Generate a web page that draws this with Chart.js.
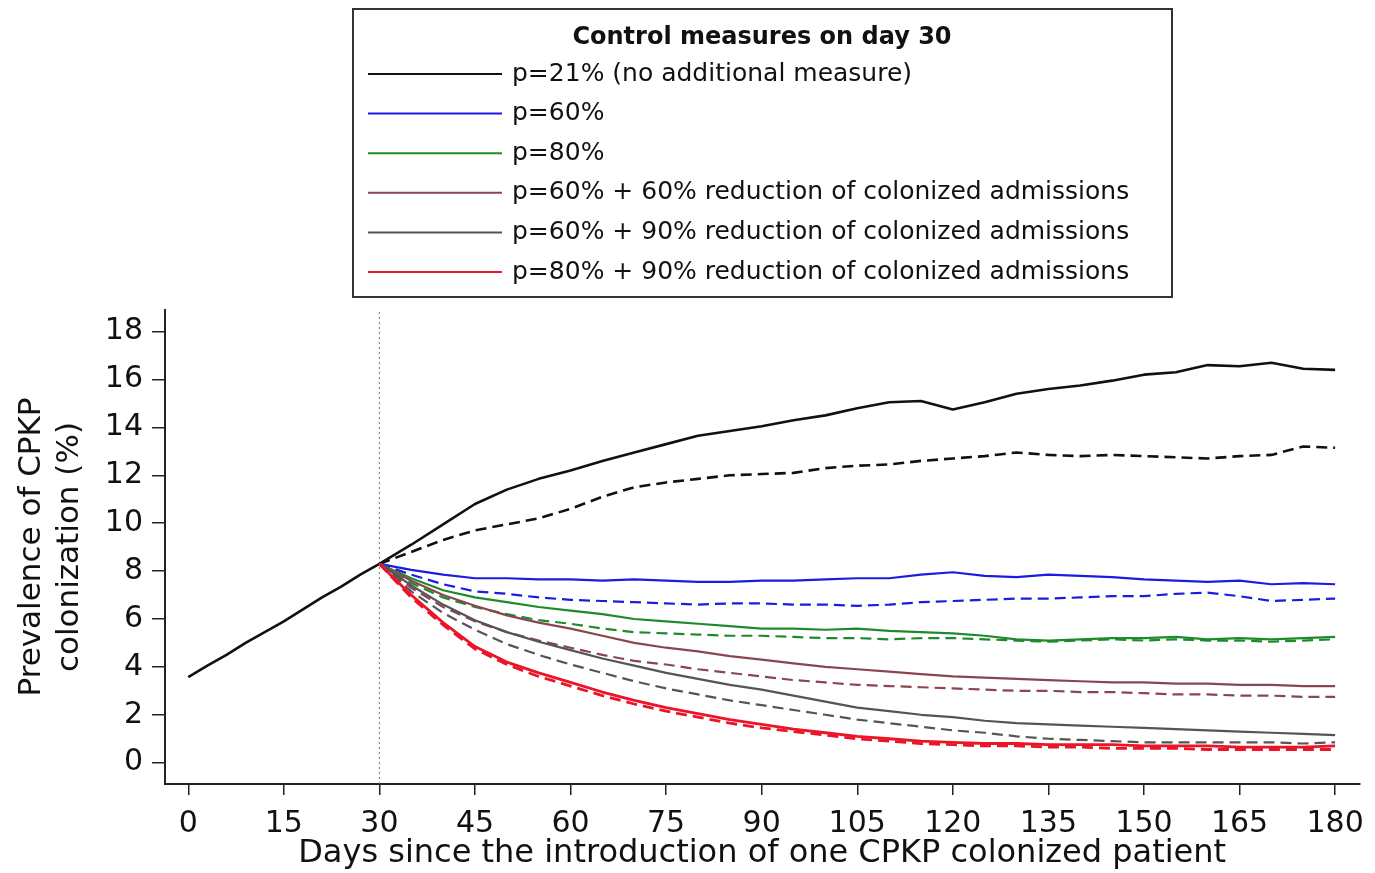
<!DOCTYPE html>
<html>
<head>
<meta charset="utf-8">
<title>Prevalence of CPKP colonization</title>
<script src="https://cdn.jsdelivr.net/npm/chart.js@4.4.1/dist/chart.umd.min.js"></script>
<style>
  html, body { margin: 0; padding: 0; background: #fff; }
  #chart { display: block; }
</style>
</head>
<body>
<canvas id="chart" width="1375" height="873"></canvas>
<script>
// axis ticks
const xTicks = [0, 15, 30, 45, 60, 75, 90, 105, 120, 135, 150, 165, 180];
const yTicks = [0, 2, 4, 6, 8, 10, 12, 14, 16, 18];
const xMin = -3.65, xMax = 183.8;
const yMin = -0.89, yMax = 18.9;
const interventionDay = 30;

// first 30 days, before any measure
const startDays = [0, 3, 6, 9, 12, 15, 18, 21, 24, 27, 30];
const startPrev = [3.57, 4.05, 4.5, 5.0, 5.45, 5.9, 6.4, 6.9, 7.35, 7.85, 8.3];

// day 30 -> 180
const days = [30, 35, 40, 45, 50, 55, 60, 65, 70, 75, 80, 85, 90, 95, 100, 105, 110, 115, 120, 125, 130, 135, 140, 145, 150, 155, 160, 165, 170, 175, 180];

const p21 = [8.3, 9.1, 9.95, 10.8, 11.4, 11.85, 12.2, 12.6, 12.95, 13.3, 13.65, 13.85, 14.05, 14.3, 14.5, 14.8, 15.05, 15.1, 14.75, 15.05, 15.4, 15.6, 15.75, 15.95, 16.2, 16.3, 16.6, 16.55, 16.7, 16.45, 16.4];
const p21Dashed = [8.3, 8.8, 9.3, 9.7, 9.95, 10.2, 10.6, 11.1, 11.5, 11.7, 11.85, 12.0, 12.05, 12.1, 12.3, 12.4, 12.45, 12.6, 12.7, 12.8, 12.95, 12.85, 12.8, 12.85, 12.8, 12.75, 12.7, 12.8, 12.85, 13.2, 13.15];

const p60 = [8.3, 8.05, 7.85, 7.7, 7.7, 7.65, 7.65, 7.6, 7.65, 7.6, 7.55, 7.55, 7.6, 7.6, 7.65, 7.7, 7.7, 7.85, 7.95, 7.8, 7.75, 7.85, 7.8, 7.75, 7.65, 7.6, 7.55, 7.6, 7.45, 7.5, 7.45];
const p60Dashed = [8.3, 7.85, 7.45, 7.15, 7.05, 6.9, 6.8, 6.75, 6.7, 6.65, 6.6, 6.65, 6.65, 6.6, 6.6, 6.55, 6.6, 6.7, 6.75, 6.8, 6.85, 6.85, 6.9, 6.95, 6.95, 7.05, 7.1, 6.95, 6.75, 6.8, 6.85];

const p80 = [8.3, 7.7, 7.2, 6.9, 6.7, 6.5, 6.35, 6.2, 6.0, 5.9, 5.8, 5.7, 5.6, 5.6, 5.55, 5.6, 5.5, 5.45, 5.4, 5.3, 5.15, 5.1, 5.15, 5.2, 5.2, 5.25, 5.15, 5.2, 5.15, 5.2, 5.25];
const p80Dashed = [8.3, 7.5, 6.9, 6.5, 6.2, 5.95, 5.8, 5.6, 5.45, 5.4, 5.35, 5.3, 5.3, 5.25, 5.2, 5.2, 5.15, 5.2, 5.2, 5.15, 5.1, 5.05, 5.1, 5.15, 5.1, 5.15, 5.1, 5.1, 5.05, 5.1, 5.15];

const p60r60 = [8.3, 7.6, 7.0, 6.55, 6.15, 5.85, 5.6, 5.3, 5.0, 4.8, 4.65, 4.45, 4.3, 4.15, 4.0, 3.9, 3.8, 3.7, 3.6, 3.55, 3.5, 3.45, 3.4, 3.35, 3.35, 3.3, 3.3, 3.25, 3.25, 3.2, 3.2];
const p60r60Dashed = [8.3, 7.3, 6.5, 5.9, 5.45, 5.1, 4.8, 4.5, 4.25, 4.1, 3.9, 3.75, 3.6, 3.45, 3.35, 3.25, 3.2, 3.15, 3.1, 3.05, 3.0, 3.0, 2.95, 2.95, 2.9, 2.85, 2.85, 2.8, 2.8, 2.75, 2.75];

const p60r90 = [8.3, 7.4, 6.6, 5.95, 5.45, 5.05, 4.7, 4.35, 4.05, 3.75, 3.5, 3.25, 3.05, 2.8, 2.55, 2.3, 2.15, 2.0, 1.9, 1.75, 1.65, 1.6, 1.55, 1.5, 1.45, 1.4, 1.35, 1.3, 1.25, 1.2, 1.15];
const p60r90Dashed = [8.3, 7.15, 6.25, 5.55, 4.95, 4.5, 4.1, 3.75, 3.4, 3.1, 2.85, 2.6, 2.4, 2.2, 2.0, 1.8, 1.65, 1.5, 1.35, 1.25, 1.1, 1.0, 0.95, 0.9, 0.85, 0.85, 0.85, 0.85, 0.85, 0.8, 0.85];

const p80r90 = [8.3, 7.0, 5.85, 4.85, 4.2, 3.75, 3.35, 2.95, 2.6, 2.3, 2.05, 1.8, 1.6, 1.4, 1.25, 1.1, 1.0, 0.9, 0.85, 0.8, 0.8, 0.75, 0.75, 0.75, 0.7, 0.7, 0.7, 0.65, 0.65, 0.65, 0.7];
const p80r90Dashed = [8.3, 6.9, 5.75, 4.75, 4.1, 3.6, 3.2, 2.8, 2.45, 2.15, 1.9, 1.65, 1.45, 1.3, 1.15, 1.0, 0.9, 0.8, 0.75, 0.7, 0.7, 0.65, 0.65, 0.6, 0.6, 0.6, 0.55, 0.55, 0.55, 0.55, 0.55];

const legendTitle = "Control measures on day 30";
const seriesNames = [
  "p=21% (no additional measure)",
  "p=60%",
  "p=80%",
  "p=60% + 60% reduction of colonized admissions",
  "p=60% + 90% reduction of colonized admissions",
  "p=80% + 90% reduction of colonized admissions"
];
const seriesColors = ["#111111", "#1c1ce0", "#1f8a2c", "#8a4650", "#555555", "#ec1428"];
const seriesWidths = [2.6, 2.2, 2.2, 2.2, 2.2, 2.8];
const solidSeries = [p21, p60, p80, p60r60, p60r90, p80r90];
const dashedSeries = [p21Dashed, p60Dashed, p80Dashed, p60r60Dashed, p60r90Dashed, p80r90Dashed];

function toPoints(xs, ys) {
  return xs.map((x, i) => ({ x: x, y: ys[i] }));
}

const datasets = [];
// red drawn last, so first in the list
for (let i = seriesNames.length - 1; i >= 0; i--) {
  datasets.push({
    label: seriesNames[i],
    data: toPoints(days, solidSeries[i]),
    borderColor: seriesColors[i],
    borderWidth: seriesWidths[i]
  });
  datasets.push({
    label: seriesNames[i] + " (dashed)",
    data: toPoints(days, dashedSeries[i]),
    borderColor: seriesColors[i],
    borderWidth: seriesWidths[i],
    borderDash: [11, 6]
  });
}
datasets.push({
  label: "before day 30",
  data: toPoints(startDays, startPrev),
  borderColor: seriesColors[0],
  borderWidth: 2.6
});
datasets.push({
  label: "day 30",
  data: [{ x: interventionDay, y: yMin }, { x: interventionDay, y: yMax }],
  borderColor: "#777",
  borderWidth: 1,
  borderDash: [2, 3]
});

// legend box drawn in the space above the plot
const legendBox = {
  id: "legendBox",
  afterDraw(chart) {
    const ctx = chart.ctx;
    ctx.save();
    ctx.strokeStyle = "#333";
    ctx.lineWidth = 2;
    ctx.strokeRect(353, 9, 819, 288);
    ctx.fillStyle = "#111";
    ctx.textBaseline = "middle";
    ctx.textAlign = "center";
    ctx.font = "bold 24px 'DejaVu Sans'";
    ctx.fillText(legendTitle, 762, 38);
    ctx.textAlign = "left";
    ctx.font = "25px 'DejaVu Sans'";
    seriesNames.forEach((name, i) => {
      const y = 74 + i * 39.6;
      ctx.strokeStyle = seriesColors[i];
      ctx.lineWidth = 2;
      ctx.beginPath();
      ctx.moveTo(368, y);
      ctx.lineTo(502, y);
      ctx.stroke();
      ctx.fillText(name, 512, y);
    });
    ctx.restore();
  }
};

Chart.defaults.font.family = "'DejaVu Sans', sans-serif";
Chart.defaults.color = "#111";

const ctx = document.getElementById("chart").getContext("2d");
new Chart(ctx, {
  type: "line",
  data: { datasets: datasets },
  plugins: [legendBox],
  options: {
    responsive: false,
    animation: false,
    layout: { padding: { top: 310, right: 13, bottom: 0, left: 0 } },
    elements: {
      point: { radius: 0 },
      line: { tension: 0, borderJoinStyle: "round", borderCapStyle: "butt" }
    },
    plugins: {
      legend: { display: false },
      tooltip: { enabled: false }
    },
    scales: {
      x: {
        type: "linear",
        min: xMin,
        max: xMax,
        afterBuildTicks: (scale) => { scale.ticks = xTicks.map(v => ({ value: v })); },
        afterFit: (scale) => { scale.height = 89; },
        border: { display: true, color: "#222", width: 2 },
        grid: { drawOnChartArea: false, drawTicks: true, tickLength: 11, color: "#222", lineWidth: 1.5 },
        ticks: { font: { size: 30 }, padding: 11, maxRotation: 0, autoSkip: false, color: "#111" },
        title: {
          display: true,
          text: "Days since the introduction of one CPKP colonized patient",
          font: { size: 32, lineHeight: 1.2 },
          padding: { top: 0, bottom: 0 },
          color: "#111"
        }
      },
      y: {
        min: yMin,
        max: yMax,
        afterBuildTicks: (scale) => { scale.ticks = yTicks.map(v => ({ value: v })); },
        afterFit: (scale) => { scale.width = 165; },
        border: { display: true, color: "#222", width: 2 },
        grid: { drawOnChartArea: false, drawTicks: true, tickLength: 13, color: "#222", lineWidth: 1.5 },
        ticks: { font: { size: 30 }, padding: 9, autoSkip: false, color: "#111" },
        title: {
          display: true,
          text: ["Prevalence of CPKP", "colonization (%)"],
          font: { size: 31, lineHeight: 1.226 },
          padding: { top: 13, bottom: 0 },
          color: "#111"
        }
      }
    }
  }
});
</script>
</body>
</html>
